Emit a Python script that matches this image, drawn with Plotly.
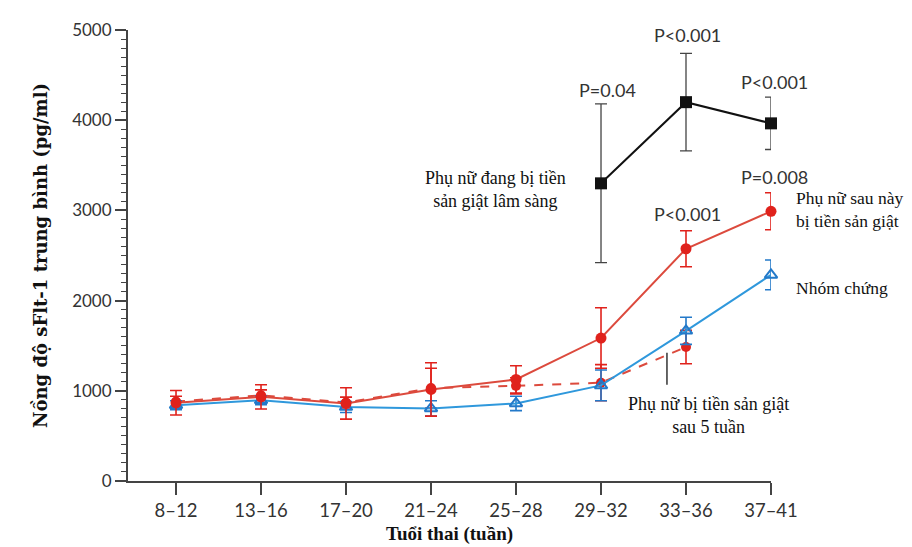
import plotly.graph_objects as go

categories = ["8–12", "13–16", "17–20", "21–24", "25–28", "29–32", "33–36", "37–41"]

# Clinical preeclampsia (black squares)
clin_x = ["29–32", "33–36", "37–41"]
clin_y = [3300, 4200, 3965]
clin_err = [880, 540, 290]

# Women who later developed preeclampsia (red circles, solid)
later_y = [867, 933, 860, 1015, 1126, 1585, 2575, 2990]
later_err = [136, 134, 174, 296, 152, 335, 200, 205]

# Preeclampsia > 5 weeks later (red circles, dashed)
five_x = ["8–12", "13–16", "17–20", "21–24", "25–28", "29–32", "33–36"]
five_y = [880, 950, 870, 1030, 1055, 1090, 1485]
five_err = [60, 60, 60, 220, 90, 200, 185]

# Controls (blue open triangles)
ctrl_y = [840, 895, 820, 805, 860, 1060, 1665, 2285]
ctrl_err = [50, 50, 60, 85, 80, 170, 150, 165]

p_labels = ["P=0.04", "P<0.001", "P<0.001", "P=0.008", "P<0.001"]

RED = "#e0221c"
REDLINE = "#dc4a3d"
BLUE = "#2f98dc"
TRI = "#2379c9"
AXIS = "#444444"

fig = go.Figure()

fig.add_trace(go.Scatter(
    x=five_x, y=five_y, mode="lines+markers",
    line=dict(color=REDLINE, width=2, dash="dash"),
    marker=dict(symbol="circle", size=10, color=RED),
    error_y=dict(type="data", array=five_err, color=RED, thickness=1.6, width=6),
    cliponaxis=False, showlegend=False))

fig.add_trace(go.Scatter(
    x=categories, y=ctrl_y, mode="lines+markers",
    line=dict(color=BLUE, width=2),
    marker=dict(symbol="triangle-up-open", size=11, color=TRI, line=dict(width=2)),
    error_y=dict(type="data", array=ctrl_err, color=TRI, thickness=1.6, width=6),
    cliponaxis=False, showlegend=False))

fig.add_trace(go.Scatter(
    x=categories, y=later_y, mode="lines+markers",
    line=dict(color=REDLINE, width=2),
    marker=dict(symbol="circle", size=11, color=RED),
    error_y=dict(type="data", array=later_err, color=RED, thickness=1.6, width=6),
    cliponaxis=False, showlegend=False))

fig.add_trace(go.Scatter(
    x=clin_x, y=clin_y, mode="lines+markers",
    line=dict(color="#111111", width=2),
    marker=dict(symbol="square", size=12, color="#111111"),
    error_y=dict(type="data", array=clin_err, color="#444444", thickness=1.3, width=6),
    cliponaxis=False, showlegend=False))

SERIF = "Liberation Serif"
SANS = "Lato"

ann = []
# P-values (x in paper fraction of the plot width, y in data units)
p_pos = [(0.745, 4333), (0.870, 4944), (1.005, 4422), (1.005, 3367), (0.870, 2956)]
for (px, py), t in zip(p_pos, p_labels):
    ann.append(dict(x=px, y=py, xref="paper", yref="y", xanchor="center", text=t,
                    showarrow=False, font=dict(family=SANS, size=18, color="#333333")))

ann.append(dict(x=3.76, y=3230, xref="x", yref="y",
                text="Phụ nữ đang bị tiền<br>sản giật lâm sàng", showarrow=False,
                align="center", font=dict(family=SERIF, size=18, color="#111111")))
ann.append(dict(x=1.036, y=3010, xref="paper", yref="y", xanchor="left",
                text="Phụ nữ sau này<br>bị tiền sản giật", showarrow=False,
                align="left", font=dict(family=SERIF, size=17.5, color="#111111")))
ann.append(dict(x=1.036, y=2144, xref="paper", yref="y", xanchor="left",
                text="Nhóm chứng", showarrow=False,
                align="left", font=dict(family=SERIF, size=17.5, color="#111111")))
ann.append(dict(x=6.259, y=722, xref="x", yref="y",
                text="Phụ nữ bị tiền sản giật<br>sau 5 tuần", showarrow=False,
                align="center", font=dict(family=SERIF, size=18, color="#111111")))

fig.update_layout(
    width=912, height=547,
    margin=dict(l=120, r=149, t=22, b=74),
    paper_bgcolor="white", plot_bgcolor="white",
    annotations=ann,
    shapes=[dict(type="line", xref="x", yref="y", x0=5.776, x1=5.776, y0=1067, y1=1422,
                 line=dict(color="#333333", width=1.5))],
    xaxis=dict(
        type="category", categoryorder="array", categoryarray=categories,
        range=[-0.565, 7.0], showline=True, linecolor=AXIS, linewidth=2,
        ticks="outside", ticklen=12, tickwidth=1.5, tickcolor=AXIS,
        showgrid=False, zeroline=False,
        tickfont=dict(family=SANS, size=18.5, color="#333333"),
        title=dict(text="<b>Tuổi thai (tuần)</b>", standoff=6,
                   font=dict(family=SERIF, size=19, color="#111111"))),
    yaxis=dict(
        range=[0, 5000], tickvals=[0, 1000, 2000, 3000, 4000, 5000],
        showline=True, linecolor=AXIS, linewidth=2,
        ticks="outside", ticklen=11, tickwidth=1.5, tickcolor=AXIS,
        minor=dict(dtick=100, ticks="outside", ticklen=5, tickwidth=1.2, tickcolor=AXIS),
        showgrid=False, zeroline=False,
        tickfont=dict(family=SANS, size=17, color="#333333"),
        title=dict(text="<b>Nồng độ sFlt-1 trung bình (pg/ml)</b>", standoff=20,
                   font=dict(family="DejaVu Serif", size=18, color="#111111"))),
)

fig.write_html("out.html")
